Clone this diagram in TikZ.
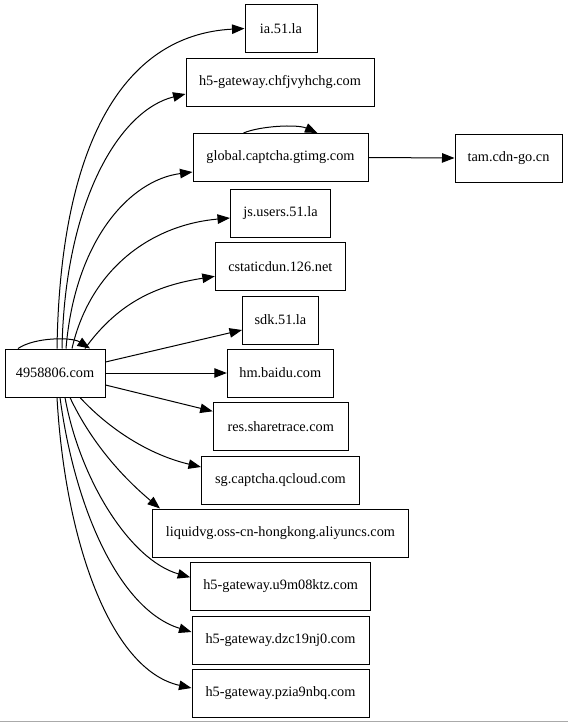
\documentclass[tikz,border=0pt]{standalone}
\usepackage{fontspec}
\setmainfont{Liberation Serif}
\usetikzlibrary{arrows.meta}

\tikzset{every picture/.style={line width=1pt}}
\tikzset{
	host/.style={draw, rectangle, minimum height=48pt, inner sep=0pt, font=\fontsize{14.3pt}{16pt}\selectfont},
	link/.style={-{Triangle[length=12.5pt,width=9.5pt]}},
}

\begin{document}
\begin{tikzpicture}[x=1pt,y=1pt,yscale=-1,xscale=1]
	\useasboundingbox (0,0) rectangle (568,723);

	% Text Node
	\node[host, minimum width=100pt] (src) at (55,373) {4958806.com};
	% Text Node
	\node[host, minimum width=72pt] (ia) at (281,28.5) {ia.51.la};
	% Text Node
	\node[host, minimum width=188pt] (chfj) at (280,82) {h5-gateway.chfjvyhchg.com};
	% Text Node
	\node[host, minimum width=175pt] (gtimg) at (280.5,157.5) {global.captcha.gtimg.com};
	% Text Node
	\node[host, minimum width=107pt] (tam) at (508.5,158) {tam.cdn-go.cn};
	% Text Node
	\node[host, minimum width=100pt] (js) at (280.5,213) {js.users.51.la};
	% Text Node
	\node[host, minimum width=130pt] (cstatic) at (280.3,266.3) {cstaticdun.126.net};
	% Text Node
	\node[host, minimum width=76pt] (sdk) at (280.5,320) {sdk.51.la};
	% Text Node
	\node[host, minimum width=106pt] (hm) at (280.3,373) {hm.baidu.com};
	% Text Node
	\node[host, minimum width=135pt] (res) at (280.7,426.3) {res.sharetrace.com};
	% Text Node
	\node[host, minimum width=158pt] (sg) at (280.5,480) {sg.captcha.qcloud.com};
	% Text Node
	\node[host, minimum width=256pt] (liquid) at (280.5,533) {liquidvg.oss-cn-hongkong.aliyuncs.com};
	% Text Node
	\node[host, minimum width=180pt] (u9m) at (280.7,586.3) {h5-gateway.u9m08ktz.com};
	% Text Node
	\node[host, minimum width=177pt] (dzc) at (280.5,640) {h5-gateway.dzc19nj0.com};
	% Text Node
	\node[host, minimum width=177pt] (pzia) at (280.5,693) {h5-gateway.pzia9nbq.com};

	%Curve Lines (self loops)
	\draw[link] ([xshift=-37pt]src.north) .. controls (35,337) and (72,337) .. ([xshift=35pt]src.north);
	\draw[link] ([xshift=-37pt]gtimg.north) .. controls (260,126) and (297,124) .. ([xshift=37pt]gtimg.north);

	%Curve Lines (upper fan)
	\draw[link] ([xshift=2pt]src.north) .. controls (60,150) and (120,35) .. (ia.west);
	\draw[link] ([xshift=7pt]src.north) .. controls (65,200) and (120,110) .. ([yshift=12pt]chfj.west);
	\draw[link] ([xshift=11pt]src.north) .. controls (75,240) and (130,180) .. ([yshift=14.5pt]gtimg.west);
	\draw[link] ([xshift=17pt]src.north) .. controls (90,270) and (150,225) .. ([yshift=5pt]js.west);
	\draw[link] ([xshift=30pt]src.north) .. controls (120,300) and (160,285) .. ([yshift=10pt]cstatic.west);

	%Straight Lines
	\draw[link] ([yshift=-11pt]src.east) -- ([yshift=10pt]sdk.west);
	\draw[link] (src.east) -- (hm.west);
	\draw[link] ([yshift=12pt]src.east) -- ([yshift=-15pt]res.west);
	\draw[link] (gtimg.east) -- (tam.west);

	%Curve Lines (lower fan)
	\draw[link] ([xshift=25pt]src.south) .. controls (110,430) and (150,455) .. ([yshift=-13pt]sg.west);
	\draw[link] ([xshift=15pt]src.south) .. controls (90,440) and (120,475) .. ([xshift=8pt]liquid.north west);
	\draw[link] ([xshift=10pt]src.south) .. controls (80,480) and (130,560) .. ([yshift=-9pt]u9m.west);
	\draw[link] ([xshift=5pt]src.south) .. controls (75,510) and (120,610) .. ([yshift=-8pt]dzc.west);
	\draw[link] ([xshift=2pt]src.south) .. controls (65,540) and (110,670) .. ([yshift=-5pt]pzia.west);

	%Straight Lines (bottom rule)
	\draw[line width=1.5pt, color={rgb, 255:red, 170; green, 170; blue, 170}] (0,721.5) -- (568,721.5);

\end{tikzpicture}
\end{document}
